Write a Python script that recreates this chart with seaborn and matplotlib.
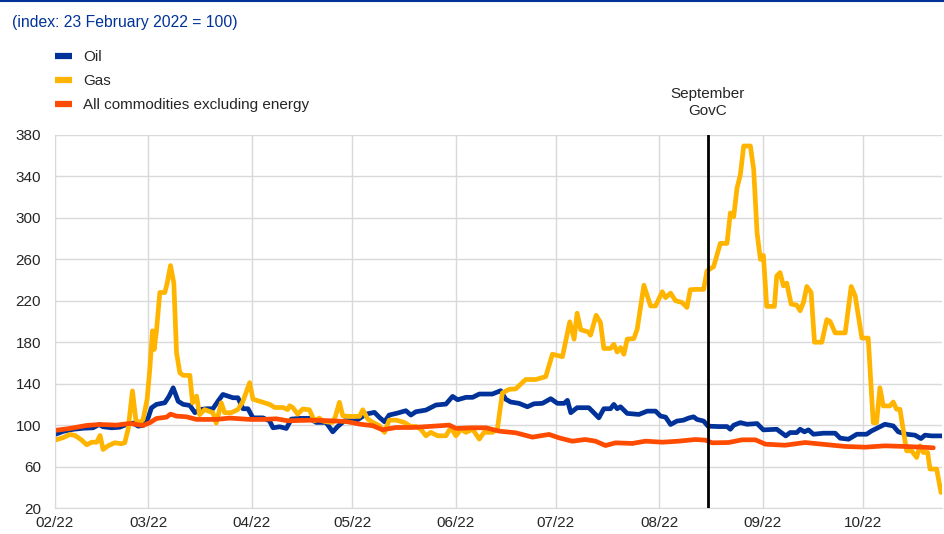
import pandas as pd
import matplotlib
matplotlib.use("Agg")
import matplotlib.pyplot as plt
import matplotlib.dates as mdates
from matplotlib.lines import Line2D
import seaborn as sns

# days counted from 1 February 2022
start = pd.Timestamp("2022-02-01")

oil_day = [0, 2.5, 5.5, 8.5, 11.4, 13.2, 14.4, 17.0, 19.4, 21.4, 23.4, 24.9, 26.4, 27.9, 28.9,
           30.4, 32.9, 34.2, 35.4, 36.9, 38.4, 40.4, 41.9, 43.3, 45.4, 47.3, 48.8, 50.3, 51.8,
           53.3, 54.8, 56.3, 57.8, 59.3, 62.3, 64.3, 65.3, 67.3, 69.3, 70.8, 73.2, 76.2, 78.2,
           81.2, 83.2, 84.7, 86.7, 90.2, 93.2, 95.7, 97.2, 98.7, 100.1, 102.6, 105.1, 106.6,
           108.1, 111.1, 114.1, 117.1, 119.1, 120.6, 123.1, 125.1, 127.1, 131.0, 133.5, 135.0,
           136.5, 139.0, 141.5, 143.5, 146.0, 148.5, 150.5, 152.5, 153.5, 154.5, 156.4, 159.9,
           161.4, 162.9, 164.4, 166.4, 167.4, 168.4, 169.4, 171.4, 174.9, 177.4, 179.9, 181.4,
           182.9, 184.4, 186.3, 188.3, 189.8, 191.3, 192.3, 194.3, 195.6, 198.8, 201.3, 202.3,
           203.3, 205.3, 207.3, 210.3, 212.2, 216.2, 218.9, 220.2, 222.2, 223.2, 224.5, 225.7,
           227.2, 230.2, 233.7, 235.2, 237.7, 240.2, 243.1, 244.6, 246.6, 248.6, 251.1, 252.6,
           255.1, 257.6, 259.4, 260.6, 262.6, 265.6]
oil_val = [91, 94, 96, 97, 97.4, 100.6, 98.4, 97.4, 98, 100.6, 102, 99, 99.7, 107, 116.7,
           120, 121.6, 128, 136, 123, 120, 119, 112, 115, 115.8, 115.8, 123, 129.6, 128,
           126.4, 126.4, 115.8, 115.8, 107, 107, 104, 97.4, 98.4, 96.8, 105.8, 106.5, 106.5, 102.6,
           102.6, 93.5, 98.7, 104.2, 104.2, 110.6, 112.3, 107.4, 103.2, 109.7, 111.6, 113.9, 109.7,
           112.9, 114.5, 119.4, 120.3, 127.7, 124.5, 126.8, 126.8, 130, 130, 133.2, 125,
           122.3, 121, 117.7, 120.6, 121, 125.5, 121, 121, 123.9, 112, 116.8, 116.8,
           112, 107, 115.8, 115.8, 120, 115.8, 117.7, 111.3, 110.3, 113.5, 113.5, 108.7,
           107.7, 100.6, 103.9, 104.8, 106.8, 108, 105.5, 103.9, 99, 98.6, 98.6, 96,
           99.9, 102.4, 100.8, 101.5, 95.4, 96, 89.6, 92.8, 92.8, 96, 93.5, 95.4,
           91.2, 92.2, 92.2, 87.4, 86.4, 91.2, 91.2, 94.4, 97.6, 100.8, 99.2, 93.5,
           91.2, 90.3, 87, 90.3, 89.6, 89.6]

gas_day = [0, 2.5, 4.5, 6.0, 8.0, 9.5, 11.0, 12.5, 13.5, 14.4, 15.9, 17.9, 19.9, 20.9, 21.9,
           23.2, 24.2, 25.2, 26.4, 27.6, 28.4, 29.2, 29.7, 30.4, 31.4, 32.9, 33.6, 34.6, 35.6,
           36.4, 37.4, 38.4, 40.4, 41.2, 42.4, 43.3, 44.8, 47.3, 48.3, 49.8, 50.8, 52.8, 54.8,
           56.3, 58.3, 59.3, 61.3, 64.3, 65.8, 68.3, 69.7, 70.3, 71.2, 72.7, 74.2, 76.2, 77.7,
           79.2, 80.2, 81.7, 83.2, 84.0, 85.2, 86.2, 88.2, 91.2, 92.2, 93.7, 95.2, 97.2, 98.7,
           100.1, 102.2, 104.6, 106.6, 108.1, 109.6, 111.1, 112.6, 114.6, 117.1, 118.6, 120.1,
           121.6, 123.1, 125.1, 127.1, 128.5, 131.0, 132.5, 134.0, 136.0, 138.0, 141.0, 144.0,
           147.0, 149.0, 152.0, 154.2, 155.5, 156.4, 157.5, 159.7, 160.4, 162.1, 163.4, 164.4,
           166.4, 167.4, 168.4, 169.4, 170.4, 171.4, 173.4, 174.4, 176.4, 178.4, 179.9, 181.9,
           182.9, 184.4, 185.9, 187.8, 189.3, 190.3, 191.8, 194.3, 195.3, 197.3, 199.3, 201.3,
           202.3, 203.3, 204.3, 205.3, 206.3, 208.3, 209.3, 210.3, 211.3, 212.2, 213.2, 215.5,
           216.2, 217.2, 218.2, 219.2, 220.5, 222.2, 223.2, 224.2, 225.2, 226.5, 227.5, 229.7,
           231.2, 232.2, 233.7, 236.7, 238.5, 239.7, 241.7, 243.6, 245.1, 246.1, 247.1, 248.1,
           250.1, 251.1, 252.1, 253.1, 255.1, 256.6, 258.1, 259.1, 260.1, 261.4, 262.1, 264.1,
           265.4]
gas_val = [85.5, 88, 91, 90, 85.5, 81, 83.5, 83.5, 90, 76.5, 80, 83, 82, 83, 96,
           133, 105.5, 101.6, 105.5, 125, 154, 191, 173, 191, 228, 228, 237, 254, 237,
           170, 150.5, 148, 148, 121.5, 128, 110, 115, 112, 102, 121.5, 112, 112, 115,
           123, 141, 125, 123, 120, 117, 117, 115, 118.7, 117, 110.6, 115.5, 114.8, 104,
           106.8, 104, 103, 102.6, 108.4, 122, 109, 108.4, 108.4, 114.8, 105.8, 102.6, 99.4, 93,
           104.8, 104.8, 102.6, 98.7, 98.7, 96, 89.7, 93, 89.7, 89.7, 97.7, 89.7,
           96, 93, 96, 86.5, 93, 93, 96, 131, 134.5, 135, 144, 144,
           146.8, 168.4, 166, 199.7, 183, 208, 192, 190, 186.8, 206, 199, 174,
           174, 178, 170.6, 174.8, 168.4, 183, 183.5, 192.6, 235, 215, 215, 228.7,
           223, 227.4, 220, 218.4, 213.6, 230.7, 231, 231, 248.8, 253, 275.4, 275.4,
           304.8, 301, 328.8, 341.6, 369.4, 369.4, 346.4, 285.6, 260, 263.8, 214.6, 214.6,
           244, 247.2, 234.4, 237, 216.8, 215.8, 210.4, 218.4, 233.8, 228, 180, 180,
           201.8, 200, 189, 189, 233.8, 224.8, 184, 184, 102.4, 102.4, 136, 118.5,
           118.5, 122.3, 115.3, 115.3, 75.2, 75.2, 68.8, 80, 73.6, 73.6, 57.6, 57.6,
           35]

comm_day = [0, 4.5, 9.5, 13.5, 18.4, 22.4, 24.4, 26.4, 28.4, 30.4, 33.4, 34.6, 36.4, 39.4,
            42.4, 48.3, 52.3, 58.3, 62.3, 66.3, 69.7, 77.2, 82.2, 87.2, 91.2, 95.2, 98.1,
            102.2, 107.1, 112.1, 118.1, 120.1, 125.1, 129.1, 133.0, 138.0, 143.0, 148.0, 151.0,
            154.9, 158.9, 161.9, 164.9, 167.9, 172.9, 176.9, 181.9, 186.8, 191.8, 194.8, 196.8,
            201.8, 205.8, 209.8, 212.8, 218.7, 224.7, 230.7, 236.7, 242.7, 248.6, 254.6, 259.6,
            263.1]
comm_val = [94.9, 96.8, 99.7, 100.6, 100, 101.6, 100.6, 99.7, 102.3, 106.4, 107.7, 110.6, 108.7, 108,
            105.5, 105.5, 106.8, 105.5, 105.5, 106.1, 104.2, 104.8, 104.2, 103.5, 101, 99.4, 95.5,
            97.7, 97.7, 98.7, 100, 96.8, 97.4, 97.4, 94.2, 92.6, 88.4, 91, 87.7,
            84.5, 86.1, 84.5, 80.3, 82.9, 82.3, 84.5, 83.5, 84.5, 86.1, 85.5, 82.9,
            83.2, 85.8, 85.8, 81.6, 80.6, 83.2, 81.3, 79.4, 78.7, 80, 79.4, 78.7,
            78.1]

series_names = ["Oil", "Gas", "All commodities excluding energy"]
colors = ["#003299", "#FFB400", "#FF4B00"]
govc_day = 195.5
last_day = 265.7

frames = []
for name, d, v in zip(series_names, [oil_day, gas_day, comm_day], [oil_val, gas_val, comm_val]):
    frames.append(pd.DataFrame({"date": start + pd.to_timedelta(d, unit="D"),
                                "value": v, "series": name}))
df = pd.concat(frames, ignore_index=True)

sns.set_style("white")
plt.rcParams["font.family"] = ["Liberation Sans", "DejaVu Sans"]

fig = plt.figure(figsize=(9.44, 5.34), dpi=100)
ax = fig.add_axes([55 / 944, 26 / 534, 887 / 944, 373 / 534])

sns.lineplot(data=df, x="date", y="value", hue="series", hue_order=series_names,
             palette=dict(zip(series_names, colors)), linewidth=3.4, estimator=None,
             sort=False, legend=False, ax=ax)

govc = start + pd.Timedelta(days=govc_day)
ax.axvline(govc, color="black", lw=2, zorder=5)
ax.text(govc, 1.045, "September\nGovC", transform=ax.get_xaxis_transform(),
        ha="center", va="bottom", fontsize=11, linespacing=1.25)

ax.set_xlim(start, start + pd.Timedelta(days=last_day))
ax.set_ylim(20, 380)
ax.set_yticks(range(20, 381, 40))
ax.xaxis.set_major_locator(mdates.MonthLocator())
ax.xaxis.set_major_formatter(mdates.DateFormatter("%m/%y"))
ax.grid(True, color="#d9d9d9", lw=1)
ax.set_axisbelow(True)
ax.tick_params(length=0, labelsize=11)
ax.tick_params(axis="y", pad=10)
ax.tick_params(axis="x", pad=6)
ax.set_xlabel("")
ax.set_ylabel("")
for s in ["top", "right"]:
    ax.spines[s].set_visible(False)
for s in ["left", "bottom"]:
    ax.spines[s].set_color("#d9d9d9")

handles = [Line2D([0], [0], color=c, lw=4.5, solid_capstyle="butt") for c in colors]
fig.legend(handles, series_names, loc="upper left", bbox_to_anchor=(55 / 944, 1 - 50 / 534),
           frameon=False, fontsize=11, handlelength=1.1, handletextpad=0.75,
           labelspacing=0.66, borderpad=0, borderaxespad=0)

fig.text(12 / 944, 1 - 22 / 534, "(index: 23 February 2022 = 100)", color="#003299",
         va="center", ha="left", fontsize=11.3)
fig.add_artist(Line2D([0, 1], [0.999, 0.999], transform=fig.transFigure, color="#003299", lw=1.5))

fig.savefig("out.png", dpi=100)
